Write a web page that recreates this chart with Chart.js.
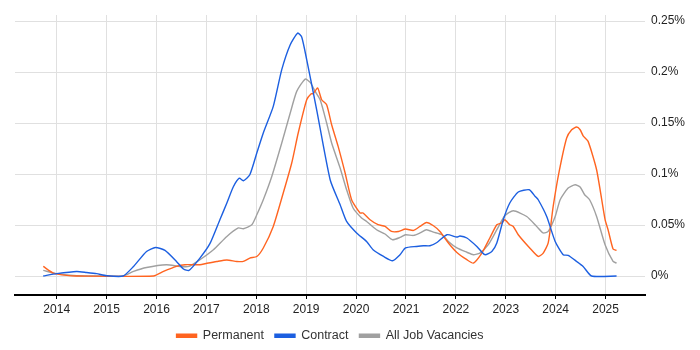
<!DOCTYPE html>
<html>
<head>
<meta charset="utf-8">
<script src="https://cdn.jsdelivr.net/npm/chart.js@4/dist/chart.umd.min.js"></script>
<style>
html,body{margin:0;padding:0;background:#fff;}
#wrap{width:700px;height:350px;position:relative;}
</style>
</head>
<body>
<div id="wrap"><canvas id="c"></canvas></div>
<script>
// Year ticks and percentage ticks
const yearTicks = [2014,2015,2016,2017,2018,2019,2020,2021,2022,2023,2024,2025];
const pctTicks = [0,0.05,0.1,0.15,0.2,0.25];

// Permanent (decimal year, % of vacancies)
const permYears = [2013.73,2013.93,2014.20,2014.40,2015.94,2016.14,2016.40,2016.57,2016.87,2017.01,2017.21,2017.41,2017.61,2017.74,2017.87,2018.01,2018.14,2018.34,2018.54,2018.71,2018.84,2019.01,2019.10,2019.14,2019.23,2019.31,2019.41,2019.51,2019.64,2019.78,2019.91,2020.08,2020.14,2020.28,2020.44,2020.58,2020.71,2020.85,2020.99,2021.15,2021.28,2021.41,2021.55,2021.68,2021.85,2022.02,2022.22,2022.35,2022.52,2022.68,2022.82,2022.92,2022.98,2023.08,2023.15,2023.25,2023.48,2023.65,2023.75,2023.85,2023.95,2024.07,2024.22,2024.32,2024.42,2024.49,2024.55,2024.65,2024.82,2024.99,2025.05,2025.15,2025.22];
const permValues = [0.0094,0.0029,0.0006,0,0,0.0045,0.0094,0.0111,0.0111,0.0125,0.0143,0.0157,0.0143,0.0143,0.0176,0.0192,0.0275,0.0486,0.0814,0.1108,0.1402,0.1728,0.1787,0.1787,0.1843,0.1728,0.1679,0.1483,0.1271,0.1010,0.0748,0.0618,0.0618,0.0552,0.0503,0.0486,0.0437,0.0437,0.0461,0.0447,0.0486,0.0525,0.0493,0.0437,0.0324,0.0231,0.0160,0.0127,0.0225,0.0373,0.0503,0.0520,0.0552,0.0503,0.0486,0.0405,0.0275,0.0192,0.0225,0.0324,0.0682,0.1025,0.1353,0.1434,0.1461,0.1434,0.1375,0.1320,0.1042,0.0552,0.0454,0.0265,0.0251];

// Contract
const contYears = [2013.73,2014.00,2014.40,2014.60,2014.80,2015.00,2015.33,2015.54,2015.80,2015.98,2016.17,2016.40,2016.54,2016.65,2016.87,2017.07,2017.27,2017.41,2017.54,2017.66,2017.74,2017.87,2018.01,2018.14,2018.34,2018.51,2018.68,2018.83,2018.91,2019.01,2019.21,2019.48,2019.68,2019.81,2020.01,2020.21,2020.34,2020.55,2020.73,2020.88,2020.99,2021.21,2021.35,2021.48,2021.62,2021.82,2022.02,2022.08,2022.22,2022.42,2022.58,2022.72,2022.82,2022.95,2023.08,2023.25,2023.47,2023.59,2023.65,2023.82,2023.99,2024.15,2024.25,2024.42,2024.55,2024.72,2025.22];
const contValues = [0,0.0023,0.0045,0.0035,0.0023,0.0003,0,0.0094,0.0241,0.0280,0.0251,0.0143,0.0069,0.0055,0.0176,0.0317,0.0552,0.0716,0.0875,0.0959,0.0934,0.0993,0.1206,0.1402,0.1663,0.2023,0.2268,0.2382,0.2343,0.2121,0.1630,0.0944,0.0699,0.0535,0.0422,0.0339,0.0258,0.0192,0.0150,0.0209,0.0275,0.0290,0.0297,0.0297,0.0329,0.0405,0.0382,0.0392,0.0373,0.0290,0.0209,0.0241,0.0324,0.0552,0.0716,0.0824,0.0846,0.0780,0.0748,0.0584,0.0339,0.0209,0.0202,0.0143,0.0094,0,0];

// All Job Vacancies
const allYears = [2013.73,2014.00,2014.40,2015.00,2015.33,2015.54,2015.80,2016.20,2016.47,2016.65,2016.87,2017.14,2017.41,2017.64,2017.74,2017.91,2018.01,2018.14,2018.31,2018.51,2018.68,2018.81,2018.98,2019.08,2019.18,2019.28,2019.41,2019.51,2019.68,2019.81,2019.94,2020.11,2020.21,2020.41,2020.58,2020.73,2020.88,2020.99,2021.15,2021.28,2021.41,2021.55,2021.72,2021.85,2022.02,2022.22,2022.35,2022.48,2022.65,2022.82,2022.98,2023.15,2023.42,2023.62,2023.75,2023.85,2023.99,2024.09,2024.25,2024.39,2024.49,2024.58,2024.68,2024.82,2024.99,2025.15,2025.22];
const allValues = [0.0055,0.0023,0.0003,0,0,0.0045,0.0084,0.0111,0.0094,0.0094,0.0160,0.0258,0.0388,0.0471,0.0464,0.0503,0.0601,0.0748,0.0976,0.1304,0.1598,0.1810,0.1931,0.1898,0.1810,0.1728,0.1500,0.1304,0.1059,0.0846,0.0667,0.0569,0.0535,0.0454,0.0412,0.0356,0.0378,0.0405,0.0398,0.0422,0.0454,0.0431,0.0405,0.0339,0.0275,0.0233,0.0209,0.0225,0.0307,0.0454,0.0591,0.0640,0.0584,0.0486,0.0422,0.0437,0.0584,0.0748,0.0863,0.0895,0.0873,0.0797,0.0748,0.0584,0.0307,0.0143,0.0127];

const seriesNames = ['Permanent','Contract','All Job Vacancies'];
const seriesColors = ['#ff6420','#1c5fe0','#a0a0a0'];

function pts(xs, ys){ return xs.map((x,i)=>({x:x, y:ys[i]})); }

const FONT = {family: '"Liberation Sans", Arial, sans-serif', size: 12};
const LEGEND_FONT = {family: '"Liberation Sans", Arial, sans-serif', size: 12.5};

const datasets = [
  pts(permYears, permValues),
  pts(contYears, contValues),
  pts(allYears, allValues)
].map((d,i)=>({
  label: seriesNames[i],
  data: d,
  borderColor: seriesColors[i],
  backgroundColor: seriesColors[i],
  borderWidth: 1.4,
  pointRadius: 0,
  tension: 0.2,
  fill: false
}));
// draw order: gray below, then orange, blue on top
datasets[0].order = 2; datasets[1].order = 1; datasets[2].order = 3;

// centre the legend under the plot area rather than the whole canvas
const legendShift = {
  id: 'legendShift',
  afterLayout(chart) {
    const lg = chart.legend, ca = chart.chartArea;
    if (!lg) return;
    const dx = (ca.left + ca.right) / 2 - (lg.left + lg.right) / 2;
    lg.left += dx; lg.right += dx;
    lg.top += 2; lg.bottom += 2;
  }
};

new Chart(document.getElementById('c'), {
  type: 'line',
  data: { datasets: datasets },
  plugins: [legendShift],
  options: {
    responsive: true,
    maintainAspectRatio: false,
    animation: false,
    layout: { padding: { left: 15, top: 15, right: 0, bottom: 0 } },
    plugins: {
      legend: {
        position: 'bottom',
        labels: {
          font: LEGEND_FONT, color: '#333',
          boxWidth: 20, boxHeight: 3,
          padding: 11,
          sort: (a, b) => a.datasetIndex - b.datasetIndex
        }
      },
      tooltip: { enabled: false }
    },
    scales: {
      x: {
        type: 'linear',
        min: 2013.164,
        max: 2025.79,
        afterBuildTicks: s => { s.ticks = yearTicks.map(v=>({value:v})); },
        afterFit: s => { s.height = 21.5; },
        grid: { color: '#e0e0e0', lineWidth: 1, tickColor: '#000', tickLength: 4, drawOnChartArea: true },
        border: { color: '#000', width: 2 },
        ticks: { font: FONT, color: '#222', padding: 3, maxRotation: 0, autoSkip: false, callback: v => String(v) }
      },
      y: {
        position: 'right',
        min: -0.0186,
        max: 0.2559,
        afterBuildTicks: s => { s.ticks = pctTicks.map(v=>({value:v})); },
        afterFit: s => { s.width = 55; },
        grid: { color: '#e0e0e0', lineWidth: 1, drawTicks: false },
        border: { display: false },
        ticks: { font: FONT, color: '#222', padding: 6, callback: v => v + '%' }
      }
    }
  }
});
</script>
</body>
</html>
